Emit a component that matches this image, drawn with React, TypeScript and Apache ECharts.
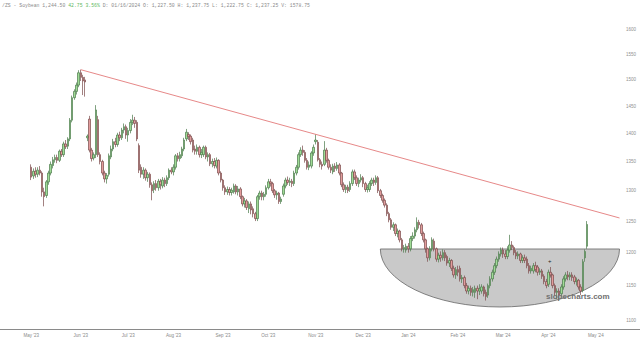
import React, { useEffect, useRef } from "react";
import * as echarts from "echarts";

// ---- calendar (weekday slots) ----
const START_DATE = "2023-04-11";
const SLOT_COUNT = 297;
const FIRST_BAR = 14; // 2023-05-01
const MONTHS = ["Jan", "Feb", "Mar", "Apr", "May", "Jun", "Jul", "Aug", "Sep", "Oct", "Nov", "Dec"];

// ---- daily OHLC ----
const opens = [
  1340,1325,1333,1328,1335,1330,1298,1292,1315,1330,
  1343,1353,1357,1352,1368,1362,1381,1377,1390,1424,
  1466,1478,1490,1514,1505,1500,1392,1426,1370,1356,
  1362,1425,1362,1350,1330,1320,1328,1358,1372,1385,
  1380,1397,1392,1406,1412,1397,1405,1420,1424,1420,
  1378,1340,1328,1335,1322,1328,1310,1302,1312,1305,
  1316,1308,1318,1312,1322,1335,1332,1340,1360,1355,
  1360,1372,1390,1398,1395,1388,1372,1368,1375,1362,
  1362,1375,1358,1362,1346,1350,1342,1352,1330,1318,
  1305,1298,1302,1297,1298,1308,1298,1303,1290,1278,
  1283,1270,1278,1270,1262,1254,1290,1296,1290,1294,
  1305,1315,1312,1300,1293,1296,1282,1294,1308,1318,
  1314,1316,1312,1330,1340,1362,1370,1366,1352,1340,
  1342,1365,1385,1384,1353,1345,1345,1370,1352,1340,
  1332,1342,1338,1344,1330,1310,1302,1306,1302,1312,
  1332,1322,1312,1318,1322,1312,1302,1302,1312,1318,
  1314,1322,1300,1292,1284,1276,1262,1252,1240,1244,
  1230,1234,1220,1206,1204,1210,1206,1222,1226,1236,
  1248,1244,1230,1220,1206,1192,1206,1218,1206,1190,
  1196,1192,1200,1194,1184,1188,1176,1166,1174,1176,
  1160,1162,1150,1142,1146,1140,1140,1146,1142,1142,
  1148,1140,1136,1150,1160,1170,1180,1190,1198,1204,
  1198,1194,1204,1212,1208,1200,1195,1198,1188,1192,
  1190,1180,1172,1172,1180,1178,1170,1172,1164,1156,
  1152,1170,1166,1150,1140,1142,1138,1148,1160,1166,
  1163,1166,1163,1156,1158,1148,1143,1192,1210,
];
const closes = [
  1323,1333,1328,1335,1330,1298,1290,1315,1330,1345,
  1353,1357,1352,1368,1362,1381,1376,1390,1424,1466,
  1478,1490,1514,1505,1498,1496,1395,1370,1355,1362,
  1443,1362,1350,1330,1320,1326,1360,1372,1385,1380,
  1397,1392,1406,1412,1397,1405,1420,1424,1418,1390,
  1335,1328,1335,1322,1328,1310,1300,1312,1305,1316,
  1310,1318,1312,1322,1335,1332,1340,1360,1355,1362,
  1372,1388,1402,1394,1385,1370,1368,1375,1362,1366,
  1375,1358,1362,1346,1350,1343,1352,1330,1318,1305,
  1298,1302,1297,1301,1308,1298,1303,1290,1278,1283,
  1272,1278,1268,1262,1254,1290,1296,1290,1294,1305,
  1315,1312,1300,1293,1296,1282,1286,1308,1318,1314,
  1316,1312,1330,1340,1362,1370,1366,1352,1340,1344,
  1365,1375,1388,1353,1345,1342,1370,1352,1340,1335,
  1342,1338,1344,1330,1310,1302,1306,1300,1312,1332,
  1322,1312,1318,1322,1312,1302,1305,1312,1318,1314,
  1322,1300,1292,1284,1276,1262,1252,1240,1244,1230,
  1234,1220,1206,1208,1210,1206,1222,1226,1236,1248,
  1244,1230,1220,1206,1192,1206,1220,1206,1190,1196,
  1192,1200,1192,1184,1188,1176,1166,1174,1170,1160,
  1162,1150,1142,1146,1140,1144,1146,1142,1145,1148,
  1138,1134,1150,1160,1170,1180,1190,1198,1204,1198,
  1194,1204,1212,1208,1200,1195,1198,1188,1192,1188,
  1180,1172,1176,1180,1174,1170,1172,1164,1156,1150,
  1170,1166,1150,1140,1142,1136,1148,1160,1166,1163,
  1166,1162,1156,1158,1148,1142,1186,1201.75,1244.5,
];
const highs = [
  1345,1338,1340,1340,1342,1333,1305,1318,1334,1350,
  1358,1362,1362,1371,1372,1385,1388,1393,1428,1470,
  1482,1495,1519,1520,1510,1506,1398,1432,1374,1366,
  1452,1432,1366,1353,1334,1330,1364,1378,1390,1392,
  1401,1403,1410,1418,1416,1410,1426,1434,1430,1424,
  1382,1345,1340,1338,1332,1331,1314,1316,1318,1320,
  1320,1323,1322,1326,1338,1340,1345,1363,1365,1367,
  1376,1392,1408,1402,1398,1392,1378,1380,1378,1372,
  1378,1378,1366,1365,1355,1356,1357,1354,1333,1320,
  1309,1307,1306,1305,1312,1311,1308,1306,1292,1288,
  1286,1282,1282,1274,1265,1293,1300,1300,1298,1309,
  1320,1320,1315,1303,1300,1298,1290,1312,1322,1324,
  1322,1320,1334,1344,1366,1375,1378,1370,1356,1350,
  1368,1380,1398,1388,1356,1350,1386,1374,1355,1345,
  1346,1347,1349,1347,1332,1314,1310,1310,1316,1336,
  1336,1326,1322,1328,1325,1315,1310,1316,1322,1322,
  1326,1325,1303,1295,1287,1279,1265,1255,1248,1246,
  1238,1236,1223,1212,1214,1215,1226,1232,1240,1256,
  1252,1247,1233,1222,1208,1210,1224,1222,1208,1200,
  1202,1205,1204,1197,1192,1190,1180,1178,1180,1180,
  1166,1165,1154,1150,1150,1148,1150,1150,1152,1152,
  1150,1144,1153,1164,1174,1184,1194,1202,1208,1208,
  1204,1210,1228,1218,1211,1204,1202,1200,1196,1197,
  1194,1184,1180,1184,1186,1181,1176,1175,1167,1160,
  1174,1178,1168,1153,1146,1146,1152,1164,1170,1172,
  1170,1170,1166,1162,1160,1152,1190,1205,1250,
];
const lows = [
  1318,1320,1322,1323,1326,1290,1274,1288,1310,1326,
  1338,1348,1347,1349,1358,1358,1372,1372,1386,1420,
  1462,1472,1486,1498,1471,1468,1386,1366,1350,1352,
  1356,1358,1345,1326,1314,1312,1324,1354,1368,1375,
  1376,1386,1388,1400,1390,1385,1400,1415,1410,1386,
  1330,1322,1320,1317,1315,1305,1284,1296,1300,1300,
  1302,1304,1306,1308,1318,1328,1326,1336,1350,1350,
  1356,1368,1386,1388,1380,1366,1362,1362,1357,1356,
  1358,1354,1350,1342,1340,1338,1338,1326,1314,1300,
  1293,1293,1292,1292,1295,1294,1292,1286,1274,1272,
  1268,1263,1261,1256,1250,1250,1285,1284,1284,1290,
  1302,1307,1296,1288,1285,1278,1278,1290,1304,1310,
  1308,1306,1308,1326,1336,1358,1360,1348,1336,1335,
  1338,1360,1380,1350,1340,1336,1342,1348,1336,1330,
  1328,1332,1334,1326,1306,1298,1296,1296,1298,1308,
  1318,1308,1306,1314,1306,1298,1297,1298,1308,1308,
  1310,1296,1288,1280,1272,1258,1248,1236,1234,1226,
  1224,1216,1202,1200,1200,1200,1202,1218,1222,1232,
  1238,1226,1216,1200,1186,1188,1202,1202,1186,1185,
  1186,1188,1187,1180,1178,1172,1162,1160,1164,1156,
  1154,1146,1138,1137,1135,1134,1132,1130,1136,1138,
  1134,1128,1132,1146,1156,1166,1176,1186,1194,1192,
  1190,1190,1200,1204,1196,1190,1190,1184,1184,1184,
  1176,1168,1168,1168,1170,1165,1166,1160,1152,1146,
  1148,1162,1146,1135,1130,1128,1134,1144,1156,1158,
  1158,1157,1152,1150,1144,1136,1140,1186,1206,
];

// ---- axis ----
const yTicks = [1100, 1150, 1200, 1250, 1300, 1350, 1400, 1450, 1500, 1550, 1600];
const Y_MIN = 1087.3;
const Y_MAX = 1633.4;

// ---- annotations (in data units) ----
const trendStart = { idx: 37, price: 1520 };
const trendEnd = { idx: 287, price: 1255 };
const cup = { fromIdx: 176, toIdx: 287, top: 1205.7, bottom: 1118.6 };

const headerMain = "/ZS - Soybean 1,244.50 ";
const headerChange = "42.75 3.56%";
const headerRest = " D: 01/16/2024 O: 1,227.50 H: 1,237.75 L: 1,222.75 C: 1,237.25 V: 1578.75";

function buildWeekdays(start: string, count: number): string[] {
  const out: string[] = [];
  const d = new Date(start + "T00:00:00Z");
  while (out.length < count) {
    const wd = d.getUTCDay();
    if (wd !== 0 && wd !== 6) out.push(d.toISOString().slice(0, 10));
    d.setUTCDate(d.getUTCDate() + 1);
  }
  return out;
}

export default function App() {
  const ref = useRef<HTMLDivElement>(null);
  useEffect(() => {
    if (!ref.current) return;
    const chart = echarts.init(ref.current, null, { renderer: "svg" });
    const dates = buildWeekdays(START_DATE, SLOT_COUNT);
    const isMonthStart = (i: number) =>
      i > 0 && dates[i].slice(5, 7) !== dates[i - 1].slice(5, 7);
    const candles = opens.map((o, i) => [FIRST_BAR + i, o, closes[i], lows[i], highs[i]]);

    chart.setOption({
      animation: false,
      backgroundColor: "#ffffff",
      grid: { left: 0, right: 0, top: 14, bottom: 14, containLabel: false, outerBoundsMode: "none" },
      xAxis: {
        type: "category",
        data: dates,
        boundaryGap: true,
        axisLine: { lineStyle: { color: "#8a8a8a", width: 1 } },
        axisTick: { show: false },
        splitLine: { show: false },
        axisLabel: {
          interval: (i: number) => isMonthStart(i),
          formatter: (v: string) => {
            const m = parseInt(v.slice(5, 7), 10) - 1;
            return `${MONTHS[m]} '${v.slice(2, 4)}`;
          },
          fontSize: 4.5,
          color: "#888",
          margin: 4,
          fontFamily: "Liberation Sans",
          hideOverlap: false,
        },
      },
      yAxis: {
        type: "log",
        logBase: 10,
        min: Y_MIN,
        max: Y_MAX,
        position: "right",
        axisLine: { show: false },
        axisTick: { show: false },
        splitLine: { show: false },
        axisLabel: {
          inside: true,
          customValues: yTicks,
          formatter: (v: number) => String(Math.round(v)),
          fontSize: 4.5,
          color: "#909090",
          margin: 4,
          fontFamily: "Liberation Sans",
        },
      },
      graphic: [
        {
          type: "text",
          left: 2,
          top: 3,
          style: {
            text: `{a|${headerMain}}{g|${headerChange}}{a|${headerRest}}`,
            rich: {
              a: { fill: "#8a8a8a", fontFamily: "Liberation Mono", fontSize: 4.8 },
              g: { fill: "#5cb85c", fontFamily: "Liberation Mono", fontSize: 4.8 },
            },
          },
        },
        {
          type: "text",
          left: 546,
          top: 292,
          z: 100,
          style: {
            text: "slopecharts.com",
            fill: "#707070",
            fontFamily: "Liberation Sans",
            fontWeight: "bold",
            fontSize: 8,
          },
        },
        {
          type: "text",
          left: 548,
          top: 258,
          z: 100,
          style: { text: "+", fill: "#222", fontSize: 6, fontFamily: "Liberation Sans" },
        },
      ],
      series: [
        {
          type: "custom",
          z: 1,
          silent: true,
          data: [[cup.fromIdx, cup.toIdx, cup.top, cup.bottom]],
          encode: { x: [0, 1], y: [2, 3] },
          renderItem: (_params: any, api: any) => {
            const p1 = api.coord([api.value(0), api.value(2)]);
            const p2 = api.coord([api.value(1), api.value(3)]);
            const w = p2[0] - p1[0];
            const h = p2[1] - p1[1];
            const rx = w / 2;
            return {
              type: "path",
              shape: {
                pathData: `M${p1[0]} ${p1[1]} A${rx} ${h} 0 0 0 ${p2[0]} ${p1[1]} Z`,
                x: p1[0],
                y: p1[1],
                width: w,
                height: h,
              },
              style: { fill: "#c9c9c9", stroke: "#666", lineWidth: 0.8 },
            };
          },
        },
        {
          type: "line",
          z: 3,
          silent: true,
          symbol: "none",
          data: [
            [dates[trendStart.idx], trendStart.price],
            [dates[trendEnd.idx], trendEnd.price],
          ],
          lineStyle: { color: "#e06a6a", width: 0.8 },
        },
        {
          type: "candlestick",
          z: 2,
          data: candles,
          encode: { x: 0, y: [1, 2, 3, 4] },
          barWidth: 2,
          itemStyle: {
            color: "#9fdb95",
            color0: "#e39c9c",
            borderColor: "#4a7a4a",
            borderColor0: "#7a4a4a",
            borderWidth: 0.7,
          },
        },
      ],
    });
    return () => chart.dispose();
  }, []);
  return (
    <div
      ref={ref}
      style={{ position: "fixed", left: 0, top: 0, width: 640, height: 343, background: "#fff" }}
    />
  );
}
